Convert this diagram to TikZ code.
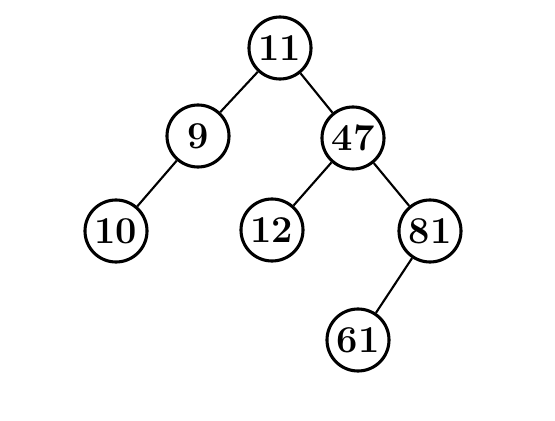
\documentclass[tikz,border=0pt]{standalone}
\begin{document}
\begin{tikzpicture}[x=0.025cm, y=-0.025cm,
    treenode/.style={draw, circle, line width=2.2pt, minimum size=1.55cm, inner sep=0pt,
        font=\fontsize{27}{32}\selectfont\bfseries},
    treeedge/.style={line width=1.5pt}]
        \useasboundingbox (0,0) rectangle (555,421);
        % Nodes of the tree
        \node[treenode] (n11) at (280, 48) {11};
        \node[treenode] (n9) at (198, 136) {9};
        \node[treenode] (n47) at (353, 138) {47};
        \node[treenode] (n10) at (116, 231) {10};
        \node[treenode] (n12) at (272, 230) {12};
        \node[treenode] (n81) at (430, 231) {81};
        \node[treenode] (n61) at (358, 340) {61};
        % Edges
        \foreach \a/\b in {n11/n9, n11/n47, n9/n10, n47/n12, n47/n81, n81/n61} {
            \draw[treeedge] (\a) -- (\b);
        }
    \end{tikzpicture}
\end{document}
